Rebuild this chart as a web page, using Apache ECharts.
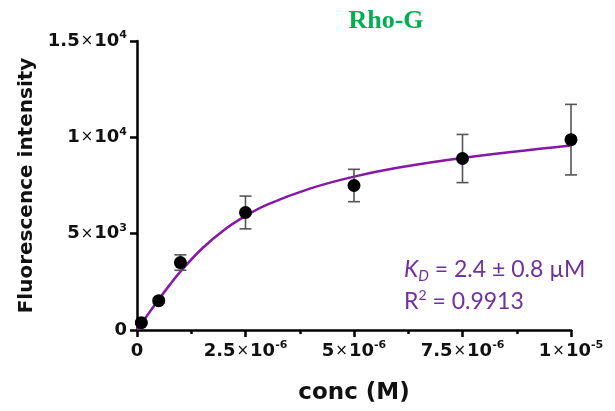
<!DOCTYPE html>
<html><head><meta charset="utf-8">
<script src="https://cdn.jsdelivr.net/npm/echarts@6/dist/echarts.min.js"></script>
<style>html,body{margin:0;padding:0;background:#fff}#c{width:615px;height:411px}</style>
</head><body><div id="c"></div>
<script>
// measured data (conc in M, fluorescence intensity)
const concM = [1e-7, 5e-7, 1e-6, 2.5e-6, 5e-6, 7.5e-6, 1e-5];
const meanIntensity = [380, 1520, 3500, 6100, 7500, 8900, 9880];
const sdIntensity = [90, 120, 400, 850, 840, 1250, 1830];
// fitted curve
const fitConcM = [0, 2.5e-7, 5e-7, 7.5e-7, 1e-6, 1.5e-6, 2e-6, 2.5e-6, 3e-6, 4e-6, 5e-6, 6e-6, 7.5e-6, 1e-5];
const fitIntensity = [0, 800, 1580, 2330, 3030, 4230, 5180, 5920, 6510, 7350, 7960, 8420, 8930, 9570];
// tick labels
const xTicks = [0, 2.5e-6, 5e-6, 7.5e-6, 1e-5];
const xTickLabels = ['0', '2.5×10^-6', '5×10^-6', '7.5×10^-6', '1×10^-5'];
const yTicks = [0, 5000, 10000, 15000];
const yTickLabels = ['0', '5×10^3', '1×10^4', '1.5×10^4'];

const FONT = 'DejaVu Sans';
const rich = {
  m: {fontFamily: FONT, fontWeight: 'bold', fontSize: 18, color: '#111', lineHeight: 22},
  x: {fontFamily: FONT, fontSize: 15, color: '#111', lineHeight: 22, padding: [0, 1, 0, 1]},
  s: {fontFamily: FONT, fontWeight: 'bold', fontSize: 11, color: '#111', lineHeight: 12, verticalAlign: 'top'}
};
function fmt(v, ticks, labels) {
  const span = Math.abs(ticks[ticks.length - 1]) || 1;
  for (let i = 0; i < ticks.length; i++) {
    if (Math.abs(v - ticks[i]) < span * 1e-6) {
      const t = labels[i];
      if (t.indexOf('×10^') < 0) return '{m|' + t + '}';
      const p = t.split('×10^');
      return '{m|' + p[0] + '}{x|×}{m|10}{s|' + p[1] + '}';
    }
  }
  return '';
}

const chart = echarts.init(document.getElementById('c'), null, {renderer: 'canvas'});
const errData = concM.map((c, i) => [c, meanIntensity[i] - sdIntensity[i], meanIntensity[i] + sdIntensity[i]]);

chart.setOption({
  animation: false,
  backgroundColor: '#fff',
  grid: {left: 137, right: 44, top: 41, bottom: 81},
  xAxis: {
    type: 'value', min: 0, max: 1e-5, interval: 2.5e-6,
    axisLine: {show: true, lineStyle: {color: '#000', width: 2.5}},
    axisTick: {show: true, length: 7, lineStyle: {color: '#000', width: 2.5}},
    minorTick: {show: true, splitNumber: 2, length: 4, lineStyle: {color: '#000', width: 2.5}},
    splitLine: {show: false},
    axisLabel: {margin: 10, formatter: v => fmt(v, xTicks, xTickLabels), rich: rich},
    name: 'conc (M)', nameLocation: 'middle', nameGap: 52,
    nameTextStyle: {fontFamily: FONT, fontWeight: 'bold', fontSize: 23, color: '#111'}
  },
  yAxis: {
    type: 'value', min: 0, max: 15000, interval: 5000,
    axisLine: {show: true, lineStyle: {color: '#000', width: 2.5}},
    axisTick: {show: true, length: 7, lineStyle: {color: '#000', width: 2.5}},
    splitLine: {show: false},
    axisLabel: {margin: 10, formatter: v => fmt(v, yTicks, yTickLabels), rich: rich},
    name: 'Fluorescence intensity', nameLocation: 'middle', nameGap: 100,
    nameTextStyle: {fontFamily: FONT, fontWeight: 'bold', fontSize: 20, color: '#111'}
  },
  series: [
    {
      type: 'line', data: fitConcM.map((c, i) => [c, fitIntensity[i]]),
      smooth: 0.4, showSymbol: false, lineStyle: {color: '#8518A6', width: 2.5}, z: 2, silent: true
    },
    {
      type: 'custom', data: errData, z: 3, silent: true,
      encode: {x: 0, y: [1, 2]},
      renderItem: function (params, api) {
        const lo = api.coord([api.value(0), api.value(1)]);
        const hi = api.coord([api.value(0), api.value(2)]);
        const w = 6;
        const st = {stroke: '#555', lineWidth: 1.6};
        return {type: 'group', children: [
          {type: 'line', shape: {x1: lo[0], y1: lo[1], x2: hi[0], y2: hi[1]}, style: st},
          {type: 'line', shape: {x1: lo[0] - w, y1: lo[1], x2: lo[0] + w, y2: lo[1]}, style: st},
          {type: 'line', shape: {x1: hi[0] - w, y1: hi[1], x2: hi[0] + w, y2: hi[1]}, style: st}
        ]};
      }
    },
    {
      type: 'scatter', data: concM.map((c, i) => [c, meanIntensity[i]]),
      symbol: 'circle', symbolSize: 13, itemStyle: {color: '#000', opacity: 1}, z: 4
    }
  ],
  graphic: [
    {type: 'text', x: 386, y: 8, style: {text: 'Rho-G', fill: '#00B050', font: 'bold 26px "Liberation Serif"', textAlign: 'center', textVerticalAlign: 'top'}},
    {type: 'text', x: 404, y: 256, style: {
      text: '{k|K}{d|D}{t| = 2.4 ± 0.8 µM}', textAlign: 'left', textVerticalAlign: 'top',
      rich: {
        k: {fontFamily: 'Lato', fontStyle: 'italic', fontSize: 23, fill: '#7030A0', lineHeight: 28},
        d: {fontFamily: 'Lato', fontStyle: 'italic', fontSize: 15, fill: '#7030A0', lineHeight: 14, verticalAlign: 'bottom'},
        t: {fontFamily: 'Lato', fontSize: 23, fill: '#7030A0', lineHeight: 28}
      }
    }},
    {type: 'text', x: 404, y: 288, style: {
      text: '{t|R}{s|2}{t| = 0.9913}', textAlign: 'left', textVerticalAlign: 'top',
      rich: {
        t: {fontFamily: 'Lato', fontSize: 23, fill: '#7030A0', lineHeight: 28},
        s: {fontFamily: 'Lato', fontSize: 14, fill: '#7030A0', lineHeight: 18, verticalAlign: 'top'}
      }
    }}
  ]
});
</script>
</body></html>
